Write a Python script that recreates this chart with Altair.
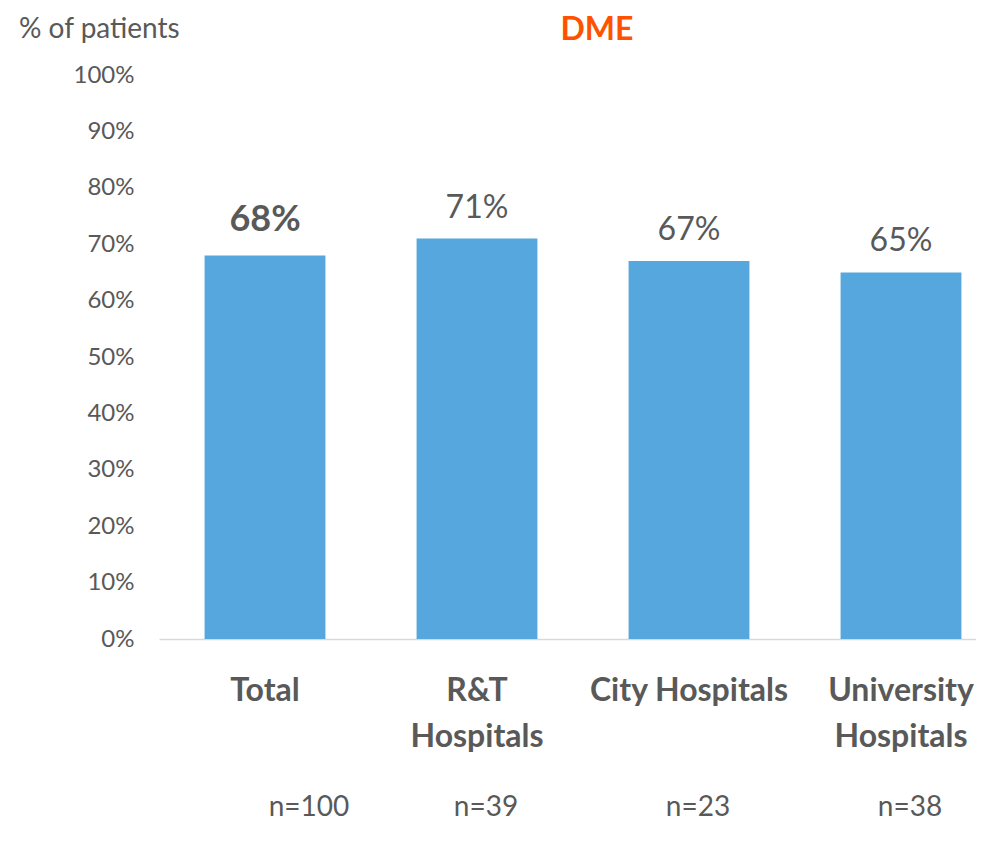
import altair as alt
import pandas as pd

categories = ["Total", "R&T Hospitals", "City Hospitals", "University Hospitals"]
values = [68, 71, 67, 65]
n_values = [100, 39, 23, 38]
y_ticks = [0, 10, 20, 30, 40, 50, 60, 70, 80, 90, 100]

df = pd.DataFrame({"cat": categories, "pct": values, "n": n_values})
df["label"] = df["pct"].astype(str) + "%"
df["nlabel"] = "n=" + df["n"].astype(str)

FONT = "Lato"
GRAY = "#595959"

x_enc = alt.X(
    "cat:N",
    sort=categories,
    scale=alt.Scale(range=[0, 848], paddingInner=0.43, paddingOuter=0.215),
    axis=alt.Axis(
        title=None, ticks=False, domainColor="#D9D9D9", domainWidth=1.5,
        labelFont=FONT, labelFontSize=32, labelFontWeight="bold", labelColor=GRAY,
        labelAngle=0, labelPadding=61, labelBaseline="alphabetic", labelLineHeight=46,
        labelOverlap=False, labelBound=False, labelFlush=False, labelLimit=400,
        labelExpr="datum.value == 'R&T Hospitals' ? ['R&T', 'Hospitals'] : datum.value == 'University Hospitals' ? ['University', 'Hospitals'] : datum.value",
    ),
)
y_enc = alt.Y(
    "pct:Q",
    scale=alt.Scale(domain=[0, 100]),
    axis=alt.Axis(
        title=None, values=y_ticks, grid=False, ticks=False, domain=False,
        labelFont=FONT, labelFontSize=24, labelColor=GRAY, labelPadding=25,
        labelExpr="datum.value + '%'",
    ),
)

base = alt.Chart(df)

bars = base.mark_bar(color="#56A7DD").encode(x=x_enc, y=y_enc)

lab_total = base.transform_filter("datum.cat == 'Total'").mark_text(
    font=FONT, fontSize=36, fontWeight="bold", color=GRAY, baseline="alphabetic", dy=-24
).encode(x=alt.X("cat:N", sort=categories), y="pct:Q", text="label:N")

lab_other = base.transform_filter("datum.cat != 'Total'").mark_text(
    font=FONT, fontSize=32, color=GRAY, baseline="alphabetic", dy=-21
).encode(x=alt.X("cat:N", sort=categories), y="pct:Q", text="label:N")

n_total = base.transform_filter("datum.cat == 'Total'").mark_text(
    font=FONT, fontSize=28, color=GRAY, baseline="alphabetic", dx=44
).encode(x=alt.X("cat:N", sort=categories), y=alt.value(741), text="nlabel:N")

n_other = base.transform_filter("datum.cat != 'Total'").mark_text(
    font=FONT, fontSize=28, color=GRAY, baseline="alphabetic", dx=9
).encode(x=alt.X("cat:N", sort=categories), y=alt.value(741), text="nlabel:N")

title_df = pd.DataFrame({"t": ["DME"]})
title = alt.Chart(title_df).mark_text(
    font=FONT, fontSize=32, fontWeight="bold", color="#FF5200", baseline="alphabetic", align="center"
).encode(x=alt.value(438), y=alt.value(-35), text="t:N")

ytitle_df = pd.DataFrame({"t": ["% of patients"]})
ytitle = alt.Chart(ytitle_df).mark_text(
    font=FONT, fontSize=28, color=GRAY, baseline="alphabetic", align="left"
).encode(x=alt.value(-140), y=alt.value(-37), text="t:N")

chart = alt.layer(bars, lab_total, lab_other, n_total, n_other, title, ytitle).properties(
    width=817,
    height=564,
    autosize=alt.AutoSizeParams(type="none"),
    padding={"left": 151, "top": 67, "right": 0, "bottom": 189},
).configure_view(stroke=None)

chart.save("out.html", embed_options={"renderer": "svg", "actions": False})
